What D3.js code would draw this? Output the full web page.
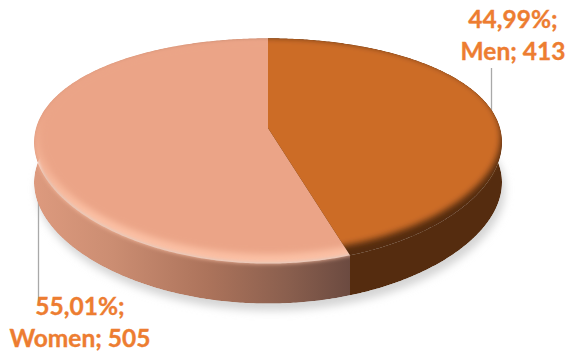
<!DOCTYPE html>
<html>
<head>
<meta charset="utf-8">
<style>
  html, body { margin: 0; padding: 0; background: #fff; }
  svg { display: block; }
  text { font-family: Lato, "Open Sans", sans-serif; font-weight: 700; font-size: 24.5px; fill: #ED7D31; stroke: #ED7D31; stroke-width: 0.35px; }
</style>
<script src="https://cdn.jsdelivr.net/npm/d3@7"></script>
</head>
<body>
<script>
// Gender split of the respondents
const categories = ["Men", "Women"];
const counts = [413, 505];
const shareLabels = ["44,99%", "55,01%"];
const faceColors = ["#CC6C26", "#EBA487"];

const width = 568, height = 356;

// Tilted disc: a unit circle seen in perspective, then extruded downward
const cx = 268, cy = 128, radiusX = 232, radiusY = 108;
const tiltX = 0.13, tiltY = 0.2035, depth = 40;

function project(angle, drop = 0, shrinkX = 1, shrinkY = 1, lift = 0) {
  const u = Math.sin(angle), v = -Math.cos(angle);
  return [cx + radiusX * shrinkX * u / (1 - tiltX * v),
          cy + radiusY * shrinkY * v / (1 - tiltY * v) + drop + lift];
}
const angleSteps = (a, b) => {
  const n = Math.max(2, Math.ceil(Math.abs(b - a) / 0.01));
  return d3.range(n + 1).map(i => a + (b - a) * i / n);
};
const line = d3.line();

const slices = d3.pie().sort(null).value(d => d)(counts);
const fullCircle = angleSteps(0, 2 * Math.PI);

const rimOutline = line(fullCircle.map(a => project(a))) + "Z";
const baseOutline = line(fullCircle.map(a => project(a, depth))) + "Z";
const insetOutline = (sx, sy, lift) =>
  line(fullCircle.map(a => project(a, 0, sx, sy, lift))) + "Z";

// Everything the disc covers: both caps joined by a swept wall
const wallBand = (a, b) => {
  const top = angleSteps(a, b).map(t => project(t));
  const bottom = angleSteps(a, b).map(t => project(t, depth)).reverse();
  return line(top.concat(bottom)) + "Z";
};
const sliceFace = (a, b) =>
  line([[cx, cy]].concat(angleSteps(a, b).map(t => project(t)))) + "Z";

const svg = d3.select("body").append("svg").attr("width", width).attr("height", height);
const defs = svg.append("defs");

[["shadowBlur", 4], ["rimBlur", 2.2], ["faceBlur", 3.2]].forEach(([id, s]) => {
  defs.append("filter").attr("id", id)
    .attr("x", "-10%").attr("y", "-10%").attr("width", "120%").attr("height", "120%")
    .append("feGaussianBlur").attr("stdDeviation", s);
});

const wallGrad = defs.append("linearGradient").attr("id", "womenWall")
  .attr("gradientUnits", "userSpaceOnUse")
  .attr("x1", 34).attr("x2", 351).attr("y1", 0).attr("y2", 0);
[[0, "#DD9A7E"], [0.25, "#CB8D72"], [0.55, "#AC735B"], [0.8, "#8A5F4E"], [1, "#6B4A40"]]
  .forEach(([o, c]) => wallGrad.append("stop").attr("offset", o).attr("stop-color", c));

// The bevel only catches light along the front of the disc
const rimGrad = defs.append("linearGradient").attr("id", "womenRim")
  .attr("gradientUnits", "userSpaceOnUse")
  .attr("x1", 0).attr("x2", 0).attr("y1", 110).attr("y2", 215);
[[0, faceColors[1]], [1, "#FBC0A4"]]
  .forEach(([o, c]) => rimGrad.append("stop").attr("offset", o).attr("stop-color", c));

// Drop shadow under the disc
svg.append("g").attr("filter", "url(#shadowBlur)")
  .attr("transform", "translate(3,7)")
  .append("path")
  .attr("d", baseOutline)
  .attr("fill", "#D4D4D4");

// Leader lines sit behind the disc
const leaders = svg.append("g").attr("stroke", "#A9A9A9").attr("stroke-width", 1.3);
leaders.append("line").attr("x1", 491.5).attr("x2", 491.5).attr("y1", 68).attr("y2", 112);
leaders.append("line").attr("x1", 38.5).attr("x2", 38.5).attr("y1", 170).attr("y2", 305);

function clipFor(id, start, end) {
  const c = defs.append("clipPath").attr("id", id);
  c.append("path").attr("d", sliceFace(start, end));
  c.append("path").attr("d", wallBand(start, end));
}
clipFor("clipMen", slices[0].startAngle, slices[0].endAngle);
clipFor("clipWomen", slices[1].startAngle, slices[1].endAngle);

// Women: gradient wall, bright bevel, flat face
const women = svg.append("g").attr("clip-path", "url(#clipWomen)");
women.append("path").attr("d", wallBand(slices[1].startAngle, slices[1].endAngle))
  .attr("fill", "url(#womenWall)");
women.append("path").attr("d", rimOutline).attr("fill", "url(#womenRim)").attr("filter", "url(#rimBlur)");
women.append("path").attr("d", insetOutline(0.975, 0.955, -3.5))
  .attr("fill", faceColors[1]).attr("filter", "url(#faceBlur)");

// Men: dark wall with the face fading straight into it
const men = svg.append("g").attr("clip-path", "url(#clipMen)");
men.append("path").attr("d", wallBand(slices[0].startAngle, slices[0].endAngle)).attr("fill", "#552C0F");
men.append("path").attr("d", rimOutline).attr("fill", "#552C0F");
men.append("path").attr("d", insetOutline(0.995, 0.955, -5))
  .attr("fill", faceColors[0]).attr("filter", "url(#faceBlur)");

// Value labels: share on one line, category and count on the next
const labelSpots = [{ x: 513, y: [28, 60] }, { x: 80, y: [315, 347] }];
const labels = svg.append("g").attr("text-anchor", "middle");
categories.forEach((name, i) => {
  const spot = labelSpots[i];
  labels.append("text").attr("x", spot.x).attr("y", spot.y[0]).text(shareLabels[i] + ";");
  labels.append("text").attr("x", spot.x).attr("y", spot.y[1]).text(name + "; " + counts[i]);
});
</script>
</body>
</html>
